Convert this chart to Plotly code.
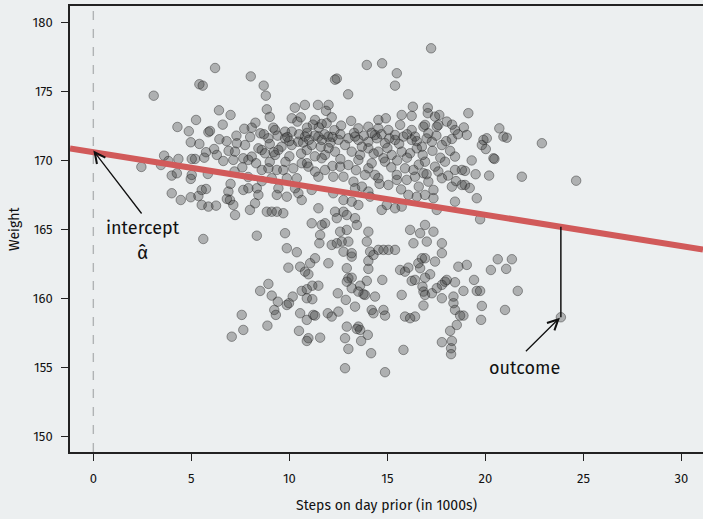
import plotly.graph_objects as go

# ---- data ----
steps_upper = [
    8.03, 8.69, 8.80, 8.85, 9.00, 10.28, 10.79, 11.46, 12.00, 11.87,
    12.33, 12.42, 13.00, 10.12, 10.58, 10.41, 8.27, 8.08, 9.18, 9.27,
    8.52, 11.31, 11.65, 12.16, 12.64, 13.15, 10.90, 9.78, 10.12,
    6.21, 5.41, 5.58, 3.08, 6.41, 5.24, 4.29, 4.87, 5.87, 5.95, 6.43,
    4.97, 5.41, 6.16, 5.75, 6.30, 6.63, 5.66, 5.19, 5.02, 3.61,
    3.83, 4.34, 3.45, 2.45, 4.00, 4.26, 5.02, 4.97, 5.84, 4.00,
    4.46, 4.97, 5.36, 5.53, 5.75, 6.89, 6.81, 5.53, 5.87, 6.26, 5.61,
    7.32, 7.74, 8.42, 8.59, 7.23, 7.65, 8.08, 8.76, 9.27, 9.44,
    10.12, 10.46, 10.89, 11.14, 11.65, 11.82, 12.33, 12.84, 10.80, 11.48,
    11.99, 9.78, 8.93, 7.14, 7.91, 8.59, 8.93, 9.36, 9.69, 10.20,
    10.63, 10.97, 11.31, 11.65, 11.82, 12.24, 12.76, 12.59, 11.48, 10.38,
    9.87, 9.10, 6.97, 7.14, 7.23, 7.65, 7.91, 8.34, 8.42, 8.25,
    7.99, 8.85, 9.10, 9.36, 9.69, 9.36, 9.44, 9.87, 10.29, 10.46,
    10.63, 11.14, 12.24, 12.76, 11.48, 12.33, 12.76, 12.42,
    19.13, 20.71,
    17.23, 13.95, 14.73, 15.48, 15.39, 16.30, 17.06, 17.06, 17.65, 17.43,
    15.73, 16.24, 18.03, 18.45, 17.60, 14.54, 14.92,
    13.52, 14.03, 14.54, 15.05, 15.65, 16.24, 16.84, 16.92, 17.52, 13.35,
    14.37, 15.39, 16.41, 17.09,
    13.01, 13.52, 14.03, 14.46, 14.88, 15.39, 15.82, 16.24, 16.76, 17.27,
    17.78, 18.29, 13.18, 13.61, 14.03, 14.54, 14.80, 15.22, 15.73, 16.16, 16.50,
    13.01, 13.52, 14.03, 14.54, 15.05, 15.48, 15.90, 16.33, 16.92, 17.43,
    17.94, 18.45, 18.80,
    13.27, 13.86, 14.37, 14.88, 15.48, 15.99, 16.41, 16.84, 17.09, 17.35,
    17.78, 18.29, 18.80, 18.45,
    13.35, 13.18, 13.52, 14.03, 14.12, 14.71, 14.97, 15.39, 15.73, 16.07,
    16.50, 16.92, 17.35, 18.45,
    12.93, 13.35, 13.44, 17.52,
    19.90, 19.82, 20.02, 20.07, 20.92, 21.09, 20.41, 20.46, 18.96, 18.96,
    20.19, 21.86, 22.88, 24.63, 19.56, 19.73, 19.05,
]
weight_upper = [
    176.10, 175.43, 174.70, 173.71, 173.16, 173.83, 174.03, 174.03, 174.03, 173.60,
    175.86, 175.94, 174.80, 173.06, 173.13, 172.82, 172.74, 172.38, 172.38, 172.21,
    171.97, 172.94, 172.65, 173.13, 172.53, 172.87, 172.38, 172.09, 172.09,
    176.71, 175.53, 175.43, 174.70, 173.64, 172.94, 172.43, 172.12, 172.05, 172.14, 171.54,
    171.32, 171.20, 170.83, 170.60, 170.40, 169.96, 170.20, 170.11, 170.11, 170.35,
    169.96, 170.11, 169.67, 169.53, 168.90, 169.07, 168.95, 168.66, 169.02, 167.62,
    167.13, 167.33, 167.42, 167.86, 167.93, 167.74, 167.21, 166.77, 166.65, 166.72, 164.30,
    171.25, 171.12, 170.88, 170.76, 170.64, 170.16, 170.28, 170.52, 170.40, 170.76,
    171.12, 171.36, 170.76, 171.12, 171.49, 170.40, 170.64, 171.12, 171.73, 171.73,
    171.73, 171.61, 171.61, 170.04, 170.04, 169.31, 169.43, 169.31, 169.31, 169.43,
    169.80, 169.55, 169.19, 170.16, 169.31, 168.82, 168.82, 169.55, 168.82, 168.71,
    168.71, 168.71, 167.13, 166.77, 166.04, 167.86, 167.98, 167.98, 167.50, 166.89,
    166.41, 166.28, 166.28, 166.28, 166.17, 167.50, 167.98, 167.37, 167.98, 167.62,
    167.13, 167.86, 167.62, 167.13, 166.53, 166.28, 166.28, 165.81,
    173.43, 172.33,
    178.14, 176.93, 177.05, 176.33, 175.43, 173.90, 173.83, 173.43, 173.30, 173.18,
    173.30, 173.23, 172.82, 172.21, 172.58, 172.94, 173.06,
    172.33, 172.45, 172.33, 172.21, 172.58, 172.21, 172.45, 172.58, 172.45, 171.73,
    171.85, 171.85, 171.73, 171.97,
    171.61, 171.49, 171.36, 171.61, 171.25, 171.49, 171.73, 171.49, 171.00, 171.36,
    171.12, 171.56, 170.64, 170.40, 170.88, 170.64, 170.16, 170.40, 170.64, 170.52, 170.88,
    169.67, 170.04, 169.43, 168.71, 168.22, 168.95, 169.43, 169.31, 169.91, 169.55,
    169.91, 170.28, 169.31,
    168.46, 168.95, 168.95, 169.91, 168.59, 168.59, 168.82, 169.07, 168.46, 167.86,
    168.71, 168.10, 168.22, 169.31,
    167.98, 167.01, 166.77, 167.74, 167.37, 166.41, 166.77, 166.53, 166.65, 167.50,
    167.37, 167.50, 167.26, 167.01,
    166.04, 165.81, 165.32, 166.41,
    171.49, 171.12, 170.83, 171.61, 171.73, 171.65, 170.16, 170.11, 169.24, 168.22,
    168.90, 168.82, 171.25, 168.53, 167.26, 165.73, 171.85,
]

steps_dense = [
    8.00, 8.70, 9.40, 9.90, 10.50, 10.90, 11.30, 11.80, 12.20, 12.60,
    11.20, 11.50, 11.90, 12.30,
    9.00, 9.60, 10.00, 10.70, 11.00, 11.60, 12.10, 12.50, 9.20, 10.00,
    10.60, 11.30, 12.00, 12.60, 8.30, 9.00, 9.80, 10.90, 12.20, 7.60,
    7.20, 7.90, 8.60, 7.00, 6.90, 7.30, 7.70, 6.60, 7.00, 6.80,
    13.30, 13.80, 14.20, 14.70, 15.10, 15.60, 16.00, 16.50, 17.00, 17.50,
    18.00, 18.60, 13.70, 14.30, 15.00, 15.50, 16.00, 16.80, 17.30, 17.70,
    18.20, 13.40, 14.20, 15.20, 16.60, 17.00, 17.60, 18.10, 14.60, 15.70,
    16.60, 13.70, 18.50, 19.30, 19.50, 19.20, 18.30, 18.90,
]
weight_dense = [
    171.70, 171.90, 171.80, 171.70, 171.90, 172.00, 171.80, 171.90, 171.70, 171.90,
    172.60, 172.40, 172.70, 172.20,
    171.20, 171.00, 171.40, 171.30, 171.50, 171.00, 171.30, 171.50, 170.60, 170.30,
    170.50, 170.30, 170.90, 170.10, 169.80, 169.90, 169.90, 169.80, 169.60, 169.50,
    169.20, 168.80, 168.50, 168.30, 170.70, 171.80, 172.30, 172.60, 173.30, 171.40,
    172.00, 171.80, 172.00, 171.90, 171.60, 171.20, 171.90, 171.40, 171.60, 171.80,
    171.40, 171.90, 171.00, 170.50, 170.90, 170.00, 170.20, 170.40, 170.70, 170.20,
    170.70, 169.30, 169.80, 169.50, 169.70, 169.00, 169.20, 168.90, 168.30, 167.90,
    168.10, 168.10, 168.50, 170.00, 169.00, 168.00, 172.60, 172.40,
]

steps_lower = [
    8.34, 9.78, 9.87, 10.38, 11.14, 11.65, 11.82, 11.57, 11.53, 11.31,
    12.16, 12.42, 12.67, 12.59, 12.93, 12.76,
    9.95, 10.55, 11.06, 10.80, 10.97, 11.99, 8.93, 8.51, 9.10, 9.41,
    9.87, 9.98, 10.17, 10.63, 10.89, 11.17, 11.48, 10.89, 11.17, 9.23,
    9.31, 7.57, 7.65, 7.06, 8.88, 10.55, 10.89, 11.22, 11.31, 10.49,
    10.97, 10.89, 11.57, 11.96, 12.16, 12.50, 12.47, 12.88, 12.93, 12.84,
    13.01, 12.84, 12.93, 12.93, 13.01,
    13.18, 14.03, 14.29, 13.18, 13.61, 13.95, 14.03, 14.74, 13.35, 13.78,
    13.86, 14.37, 13.18, 13.52, 14.20, 14.29, 14.80, 14.88, 13.52, 13.61,
    13.44, 14.00, 13.66, 14.17, 14.88, 15.73, 15.82,
    15.65, 15.90, 16.07, 16.24, 16.41, 16.67, 16.76, 16.92, 16.58, 17.43,
    17.18, 16.92, 16.79, 16.84, 16.92, 17.27, 17.52, 17.78, 17.94, 18.03,
    18.45, 18.62, 19.05, 18.88, 17.78, 16.84, 18.37, 18.37, 18.45, 18.71,
    18.88, 18.54, 18.20, 17.78, 18.29, 18.25, 18.25, 16.41, 15.90, 16.16,
    20.63, 21.35, 20.28, 21.06, 19.42, 19.56, 19.73, 21.65, 19.82, 19.78, 21.00,
    13.01, 14.03, 13.95, 13.18, 14.12, 14.54, 14.80, 15.05, 15.39, 16.16,
    16.67, 16.92, 17.35, 16.33, 17.01, 17.78, 17.78,
]
weight_lower = [
    164.54, 164.72, 163.63, 163.34, 165.44, 165.32, 165.44, 164.59, 163.99, 162.90,
    163.87, 163.99, 164.11, 164.83, 164.96, 163.38,
    162.22, 162.29, 162.54, 161.93, 161.74, 162.54, 161.04, 160.53, 160.19, 159.75,
    159.51, 159.64, 160.12, 160.53, 160.65, 160.91, 160.91, 160.00, 159.93, 159.15,
    158.79, 158.79, 157.70, 157.21, 158.01, 158.91, 158.43, 158.79, 158.74, 157.63,
    157.10, 156.90, 157.14, 158.91, 158.67, 159.03, 160.36, 159.88, 157.94, 157.10,
    156.32, 154.92, 162.18, 161.20, 161.45,
    163.02, 162.71, 163.14, 161.49, 160.91, 161.26, 162.13, 161.33, 159.39, 160.29,
    160.24, 160.12, 160.73, 160.48, 159.15, 158.91, 159.15, 158.74, 157.94, 157.70,
    157.77, 157.34, 156.90, 156.01, 154.63, 160.24, 156.25,
    162.05, 161.93, 162.22, 161.26, 161.33, 162.18, 162.90, 162.90, 162.54, 162.66,
    161.74, 161.49, 160.84, 160.48, 160.24, 160.36, 160.73, 160.97, 161.20, 161.33,
    161.16, 162.29, 162.42, 160.53, 160.00, 159.47, 160.12, 159.64, 159.15, 158.74,
    158.74, 158.06, 157.63, 156.81, 156.90, 156.37, 155.94, 158.67, 158.67, 158.55,
    162.83, 162.83, 162.05, 162.13, 161.33, 160.53, 160.53, 160.53, 159.44, 158.43, 159.15,
    164.11, 164.83, 164.11, 163.27, 163.38, 163.51, 163.51, 163.51, 163.51, 164.96,
    164.72, 165.32, 164.83, 163.99, 164.11, 163.99, 163.27,
]

outcome_step = 23.85
outcome_weight = 158.62

alpha_hat = 170.6      # fitted intercept
beta_hat = -0.227      # fitted slope per 1000 steps

x_ticks = [0, 5, 10, 15, 20, 25, 30]
y_ticks = [150, 155, 160, 165, 170, 175, 180]
x_range = [-1.19, 31.1]
y_range = [148.84, 181.21]

# ---- figure ----
FONT = "Fira Sans, Open Sans, sans-serif"
BG = "#eceff0"
marker_style = dict(size=9.5, color="rgba(50,50,50,0.33)",
                    line=dict(width=1, color="rgba(30,30,30,0.42)"))

all_steps = steps_upper + steps_dense + steps_lower + [outcome_step]
all_weight = weight_upper + weight_dense + weight_lower + [outcome_weight]

fig = go.Figure()

# dashed reference line at x = 0
fig.add_trace(go.Scatter(x=[0, 0], y=y_range, mode="lines",
                         line=dict(color="#b0b3b5", width=1.4, dash="dash"),
                         hoverinfo="skip", showlegend=False))

fig.add_trace(go.Scatter(x=all_steps, y=all_weight, mode="markers",
                         marker=marker_style, showlegend=False))

# regression line
fig.add_trace(go.Scatter(
    x=x_range,
    y=[alpha_hat + beta_hat * v for v in x_range],
    mode="lines", line=dict(color="#d15a5a", width=6),
    hoverinfo="skip", showlegend=False))

# residual segment
fig.add_trace(go.Scatter(
    x=[outcome_step, outcome_step],
    y=[alpha_hat + beta_hat * outcome_step, outcome_weight],
    mode="lines", line=dict(color="#111111", width=1.5),
    hoverinfo="skip", showlegend=False))

ann_font = dict(family=FONT, size=18, color="#111111")
fig.add_annotation(x=0, y=alpha_hat + 0.12, ax=2.52, ay=166.04,
                   xref="x", yref="y", axref="x", ayref="y",
                   text="", showarrow=True, arrowhead=5, arrowsize=1.6,
                   arrowwidth=1.3, arrowcolor="#111111", standoff=0)
fig.add_annotation(x=2.52, y=165.1, text="intercept", showarrow=False,
                   font=ann_font)
fig.add_annotation(x=2.52, y=163.35, text="α\u0302", showarrow=False,
                   font=dict(family=FONT, size=19, color="#111111"))
fig.add_annotation(x=outcome_step - 0.05, y=outcome_weight - 0.03,
                   ax=21.99, ay=156.05,
                   xref="x", yref="y", axref="x", ayref="y",
                   text="", showarrow=True, arrowhead=5, arrowsize=1.6,
                   arrowwidth=1.3, arrowcolor="#111111", standoff=0)
fig.add_annotation(x=21.97, y=154.96, text="outcome", showarrow=False,
                   font=ann_font)

# axis titles
fig.add_annotation(x=0.5, y=0, xref="paper", yref="paper",
                   text="Steps on day prior (in 1000s)", showarrow=False,
                   yanchor="middle", yshift=-53,
                   font=dict(family=FONT, size=14, color="#111111"))
fig.add_annotation(x=0, y=0.5, xref="paper", yref="paper",
                   text="Weight", showarrow=False, textangle=-90,
                   xanchor="center", xshift=-56,
                   font=dict(family=FONT, size=14, color="#111111"))

axis_common = dict(showgrid=False, zeroline=False, showline=True,
                   linecolor="#222222", linewidth=1.5, ticks="outside",
                   ticklen=7, tickwidth=1.2, tickcolor="#222222",
                   tickfont=dict(family=FONT, size=13, color="#111111"))

fig.update_xaxes(range=x_range, tickvals=x_ticks, mirror=True,
                 ticklabelstandoff=7, **axis_common)
fig.update_yaxes(range=y_range, tickvals=y_ticks, mirror=False,
                 ticklabelstandoff=6, **axis_common)

fig.update_layout(width=703, height=519,
                  margin=dict(l=70, r=0, t=6, b=67),
                  paper_bgcolor=BG, plot_bgcolor=BG,
                  font=dict(family=FONT), showlegend=False)

page_fix = ("document.body.style.margin='0';"
            "document.body.style.overflow='hidden';"
            "document.body.style.background='%s';" % BG)
fig.write_html("out.html", post_script=page_fix,
               config={"displayModeBar": False})
